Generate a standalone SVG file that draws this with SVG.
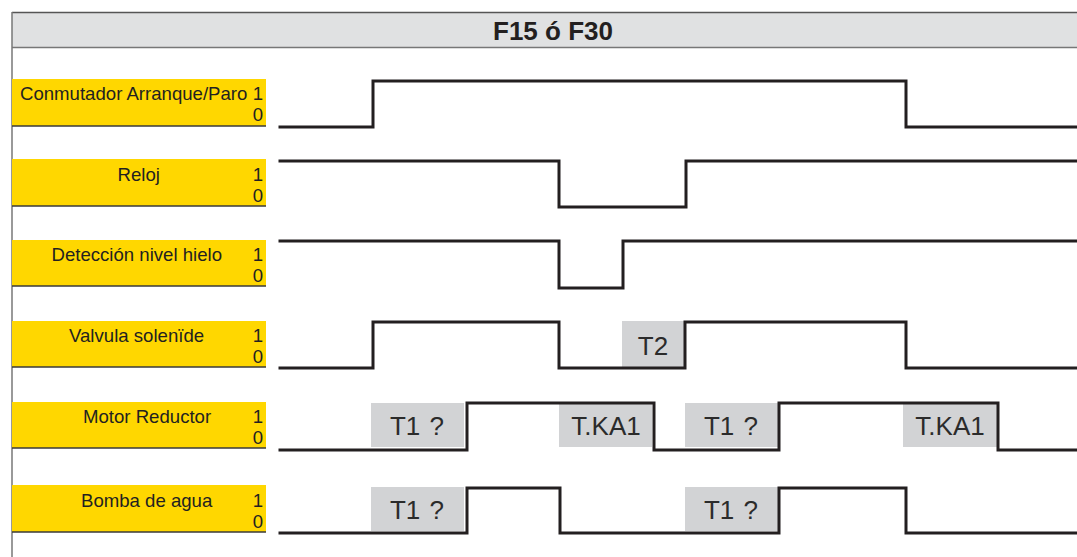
<svg xmlns="http://www.w3.org/2000/svg" width="1077" height="557" viewBox="0 0 1077 557">
  <style>
    .lbl{font-family:"Liberation Sans",Arial,sans-serif;font-size:18.6px;fill:#231f20}
    .num{font-family:"Liberation Sans",Arial,sans-serif;font-size:18.6px;fill:#231f20;text-anchor:end}
    .ybox{fill:#ffd700}
    .yline{stroke:#3a3a3a;stroke-width:1.5}
    .gbox{fill:#d2d3d5}
    .gtxt{font-family:"Liberation Sans",Arial,sans-serif;font-size:26px;fill:#2b2b2b;text-anchor:middle;word-spacing:2px}
    .sig{fill:none;stroke:#231f20;stroke-width:3;stroke-linejoin:miter;stroke-linecap:square}
    .title{font-family:"Liberation Sans",Arial,sans-serif;font-size:26px;font-weight:bold;fill:#231f20;text-anchor:middle}
  </style>
  <rect width="1077" height="557" fill="#ffffff"/>
  <g id="header">
    <rect x="12" y="12.5" width="1065" height="35" fill="#e0e1e2"/>
    <line x1="12" y1="12.5" x2="1077" y2="12.5" stroke="#555" stroke-width="1.5"/>
    <line x1="12" y1="47.5" x2="1077" y2="47.5" stroke="#777" stroke-width="1.5"/>
    <text class="title" x="553" y="40">F15 ó F30</text>
  </g>
  <line x1="12" y1="12" x2="12" y2="557" stroke="#777" stroke-width="1.5"/>

  <g id="label-conmutador">
    <rect class="ybox" x="12" y="79" width="254" height="47"/>
    <line class="yline" x1="12" y1="126" x2="266" y2="126"/>
    <text class="lbl" x="20" y="100">Conmutador Arranque/Paro</text>
    <text class="num" x="263" y="100">1</text>
    <text class="num" x="263" y="121">0</text>
  </g>
  <g id="label-reloj">
    <rect class="ybox" x="12" y="159" width="254" height="47"/>
    <line class="yline" x1="12" y1="206" x2="266" y2="206"/>
    <text class="lbl" x="117.5" y="181">Reloj</text>
    <text class="num" x="263" y="181">1</text>
    <text class="num" x="263" y="202">0</text>
  </g>
  <g id="label-deteccion">
    <rect class="ybox" x="12" y="240" width="254" height="46"/>
    <line class="yline" x1="12" y1="286" x2="266" y2="286"/>
    <text class="lbl" x="51.5" y="261">Detección nivel hielo</text>
    <text class="num" x="263" y="261">1</text>
    <text class="num" x="263" y="282">0</text>
  </g>
  <g id="label-valvula">
    <rect class="ybox" x="12" y="321" width="254" height="46"/>
    <line class="yline" x1="12" y1="367" x2="266" y2="367"/>
    <text class="lbl" x="69" y="342">Valvula solenïde</text>
    <text class="num" x="263" y="342">1</text>
    <text class="num" x="263" y="363">0</text>
  </g>
  <g id="label-motor">
    <rect class="ybox" x="12" y="402" width="254" height="46"/>
    <line class="yline" x1="12" y1="448" x2="266" y2="448"/>
    <text class="lbl" x="83" y="423">Motor Reductor</text>
    <text class="num" x="263" y="423">1</text>
    <text class="num" x="263" y="444">0</text>
  </g>
  <g id="label-bomba">
    <rect class="ybox" x="12" y="485" width="254" height="47"/>
    <line class="yline" x1="12" y1="532" x2="266" y2="532"/>
    <text class="lbl" x="81" y="507">Bomba de agua</text>
    <text class="num" x="263" y="507">1</text>
    <text class="num" x="263" y="528">0</text>
  </g>

  <g id="timers">
    <rect class="gbox" x="622" y="321" width="62" height="46"/>
    <text class="gtxt" x="653" y="355">T2</text>
    <rect class="gbox" x="371" y="403" width="93" height="44"/>
    <text class="gtxt" x="417" y="435">T1 ?</text>
    <rect class="gbox" x="559" y="403" width="93" height="44"/>
    <text class="gtxt" x="606" y="435">T.KA1</text>
    <rect class="gbox" x="685" y="403" width="93" height="44"/>
    <text class="gtxt" x="731" y="435">T1 ?</text>
    <rect class="gbox" x="903" y="403" width="94" height="44"/>
    <text class="gtxt" x="950" y="435">T.KA1</text>
    <rect class="gbox" x="371" y="487" width="93" height="44"/>
    <text class="gtxt" x="417" y="519">T1 ?</text>
    <rect class="gbox" x="685" y="487" width="93" height="44"/>
    <text class="gtxt" x="731" y="519">T1 ?</text>
  </g>

  <g id="signals">
    <polyline class="sig" points="280,127 373,127 373,81 906,81 906,127 1077,127"/>
    <polyline class="sig" points="280,161 559,161 559,207 686,207 686,161 1077,161"/>
    <polyline class="sig" points="280,241 559,241 559,288 623,288 623,241 1077,241"/>
    <polyline class="sig" points="280,368 373,368 373,322 559,322 559,368 685,368 685,322 906,322 906,368 1077,368"/>
    <polyline class="sig" points="280,450 467,450 467,403 654,403 654,450 779,450 779,403 998,403 998,450 1077,450"/>
    <polyline class="sig" points="280,533 467,533 467,488 560,488 560,533 779,533 779,488 906,488 906,533 1077,533"/>
  </g>
</svg>
